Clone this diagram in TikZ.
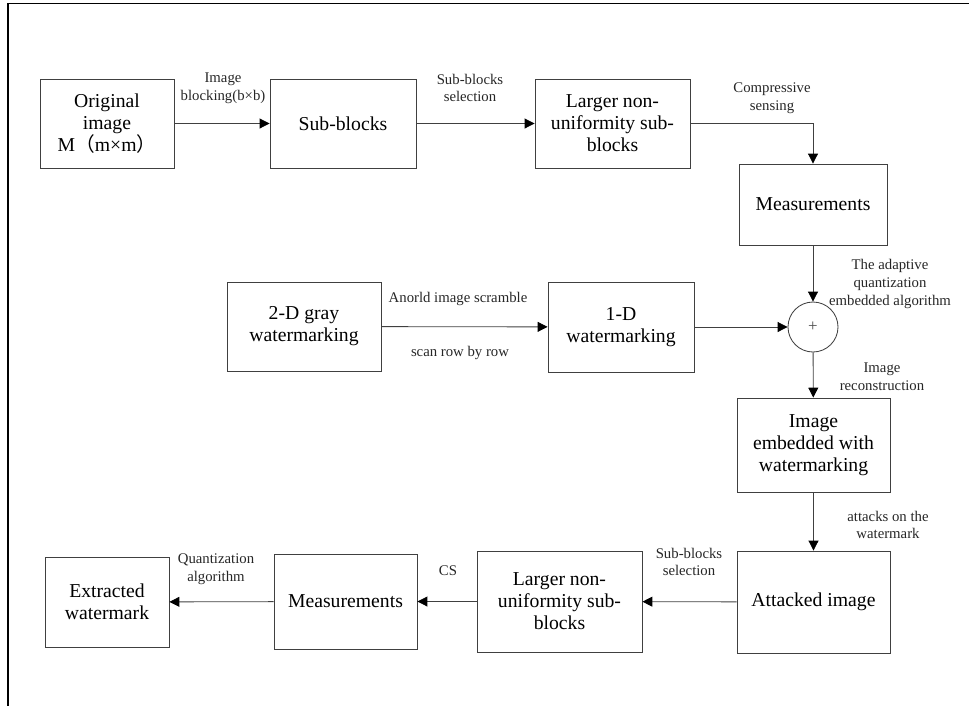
\documentclass[tikz,border=0pt]{standalone}
\usepackage{fontspec}
\setmainfont{Liberation Serif}
\newfontfamily\cjk{Noto Sans CJK SC}
\usetikzlibrary{arrows.meta}

\tikzset{
	blk/.style={draw=black!75, line width=0.6pt, align=center, inner sep=0pt, font=\fontsize{14}{15.6}\selectfont},
	lbl/.style={align=center, inner sep=0pt, font=\fontsize{10.5}{12.5}\selectfont, text=black!85},
	arr/.style={-{Triangle[length=7pt,width=7pt,color=black]}, draw=black!75, line width=0.6pt},
}

\begin{document}
\begin{tikzpicture}[x=0.025cm,y=-0.025cm]
		\useasboundingbox (0,0) rectangle (969,706);
		\draw[line width=1pt] (969,3.5) -- (8,3.5) -- (8,706); %frame
		% top row
		\node[blk, minimum width=3.35cm, minimum height=2.225cm] (orig) at (107,123.5) {Original\\image\\M{\cjk（}m×m{\cjk）}};
		\node[blk, minimum width=3.65cm, minimum height=2.225cm] (sub) at (343,123.5) {Sub-blocks};
		\node[blk, minimum width=3.875cm, minimum height=2.225cm] (large) at (612.5,123.5) {Larger non-\\uniformity sub-\\blocks};
		\node[blk, minimum width=3.7cm, minimum height=2.025cm] (meas) at (813,204.5) {Measurements};
		% watermark row
		\node[blk, minimum width=3.85cm, minimum height=2.225cm] (gray) at (304,326.5) {2-D gray\\watermarking};
		\node[blk, minimum width=3.65cm, minimum height=2.25cm] (wmark) at (621,327) {1-D\\watermarking};
		\node[draw=black!75, line width=0.6pt, circle, minimum size=1.25cm, inner sep=0pt, font=\fontsize{12}{12}\selectfont, text=black!70] (plus) at (813,327) {+};
		\node[blk, minimum width=3.825cm, minimum height=2.35cm] (embed) at (813.5,445) {Image\\embedded with\\watermarking};
		% bottom row
		\node[blk, minimum width=3.825cm, minimum height=2.55cm] (attack) at (813.5,602) {Attacked image};
		\node[blk, minimum width=4.125cm, minimum height=2.525cm] (large2) at (559.5,601.5) {Larger non-\\uniformity sub-\\blocks};
		\node[blk, minimum width=3.575cm, minimum height=2.375cm] (meas2) at (345.5,601.5) {Measurements};
		\node[blk, minimum width=3.1cm, minimum height=2.25cm] (extr) at (107,602) {Extracted\\watermark};
		% connectors
		\draw[arr] (orig) -- (sub);
		\draw[arr] (sub) -- (large);
		\draw[arr] (large.east) -| (meas.north);
		\draw[arr] (meas) -- (plus);
		\draw[arr] (gray) -- (wmark);
		\draw[arr] (wmark) -- (plus);
		\draw[arr] (plus) -- (embed);
		\draw[arr] (embed) -- (attack);
		\draw[arr] (attack) -- (large2);
		\draw[arr] (large2) -- (meas2);
		\draw[arr] (meas2) -- (extr);
		% labels
		\node[lbl] (l1) at (223,88) {Image\\blocking(b×b)};
		\node[lbl] (l2) at (470,88) {Sub-blocks\\selection};
		\node[lbl] (l3) at (772,98) {Compressive\\sensing};
		\node[lbl] (l4) at (890,284) {The adaptive\\quantization\\embedded algorithm};
		\node[lbl] (l5) at (458,299) {Anorld image scramble};
		\node[lbl] (l6) at (460,353) {scan row by row};
		\node[lbl] (l7) at (882,377) {Image\\reconstruction};
		\node[lbl] (l8) at (888,525) {attacks on the\\watermark};
		\node[lbl] (l9) at (689,562) {Sub-blocks\\selection};
		\node[lbl] (l10) at (448,571) {CS};
		\node[lbl] (l11) at (216,569) {Quantization\\algorithm};
	\end{tikzpicture}
\end{document}
